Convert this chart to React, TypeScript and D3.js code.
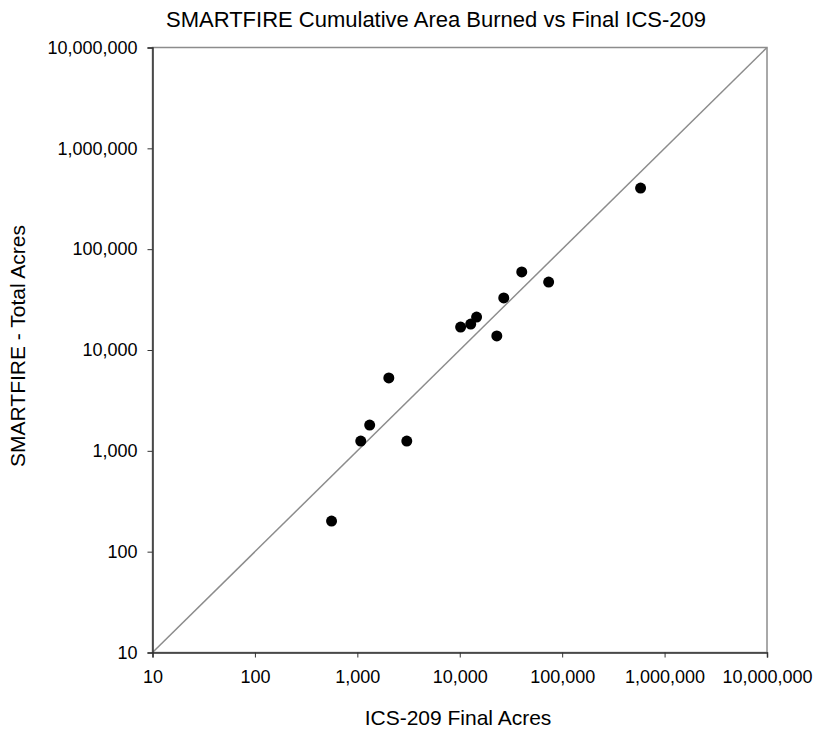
import * as React from "react";
import * as d3 from "d3";

const icsAcres = [560, 1080, 1320, 2030, 3040, 10200, 12800, 14600, 23000, 26900, 40300, 73800, 583000];
const smartfireAcres = [201, 1250, 1800, 5280, 1250, 16900, 18100, 21200, 13800, 32800, 59400, 47200, 404000];
const tickValues = [10, 100, 1000, 10000, 100000, 1000000, 10000000];

const FONT = "'Liberation Sans', Arial, sans-serif";

function drawChart(svgRef: React.RefObject<SVGSVGElement>) {
  const width = 814;
  const height = 730;
  const margin = { top: 47.5, right: 47, bottom: 77.5, left: 152.5 };

  const svg = d3.select(svgRef.current);
  svg.selectAll("*").remove();
  svg.attr("width", width).attr("height", height);

  const x = d3.scaleLog().domain([10, 10000000]).range([margin.left, width - margin.right]);
  const y = d3.scaleLog().domain([10, 10000000]).range([height - margin.bottom, margin.top]);
  const fmt = d3.format(",");

  // plot area border (top/right in grey)
  svg.append("rect")
    .attr("x", x(10)).attr("y", y(10000000))
    .attr("width", x(10000000) - x(10)).attr("height", y(10) - y(10000000))
    .attr("fill", "none").attr("stroke", "#8c8c8c").attr("stroke-width", 1.5);

  // 1:1 line
  svg.append("line")
    .attr("x1", x(10)).attr("y1", y(10))
    .attr("x2", x(10000000)).attr("y2", y(10000000))
    .attr("stroke", "#8c8c8c").attr("stroke-width", 1.5);

  const xAxis = svg.append("g")
    .attr("transform", `translate(0,${y(10)})`)
    .call(d3.axisBottom(x).tickValues(tickValues).tickFormat((d) => fmt(d as number)).tickSize(5).tickPadding(10));
  const yAxis = svg.append("g")
    .attr("transform", `translate(${x(10)},0)`)
    .call(d3.axisLeft(y).tickValues(tickValues).tickFormat((d) => fmt(d as number)).tickSize(5).tickPadding(10));

  [xAxis, yAxis].forEach((g) => {
    g.select(".domain").attr("stroke", "#333").attr("stroke-width", 1.5);
    g.selectAll(".tick line").attr("stroke", "#333");
    g.selectAll(".tick text").attr("fill", "#000").style("font-family", FONT).style("font-size", "18px");
  });
  xAxis.selectAll(".tick text").attr("dy", "0.85em");

  svg.selectAll("circle.pt")
    .data(icsAcres)
    .enter()
    .append("circle")
    .attr("class", "pt")
    .attr("cx", (d) => x(d))
    .attr("cy", (_, i) => y(smartfireAcres[i]))
    .attr("r", 5.5)
    .attr("fill", "#000");

  svg.append("text")
    .attr("x", 436).attr("y", 27)
    .attr("text-anchor", "middle")
    .style("font-family", FONT).style("font-size", "22px")
    .text("SMARTFIRE Cumulative Area Burned vs Final ICS-209");

  svg.append("text")
    .attr("x", 458).attr("y", 725)
    .attr("text-anchor", "middle")
    .style("font-family", FONT).style("font-size", "21px")
    .text("ICS-209 Final Acres");

  svg.append("text")
    .attr("transform", `translate(25,346) rotate(-90)`)
    .attr("text-anchor", "middle")
    .style("font-family", FONT).style("font-size", "21px")
    .text("SMARTFIRE - Total Acres");
}

const App: React.FunctionComponent = () => {
  const svg = React.useRef<SVGSVGElement>(null);
  React.useEffect(() => {
    document.body.style.margin = "0";
    drawChart(svg);
  }, [svg]);

  return (
    <div id="chart">
      <svg ref={svg} style={{ display: "block" }} />
    </div>
  );
};

export default App;
